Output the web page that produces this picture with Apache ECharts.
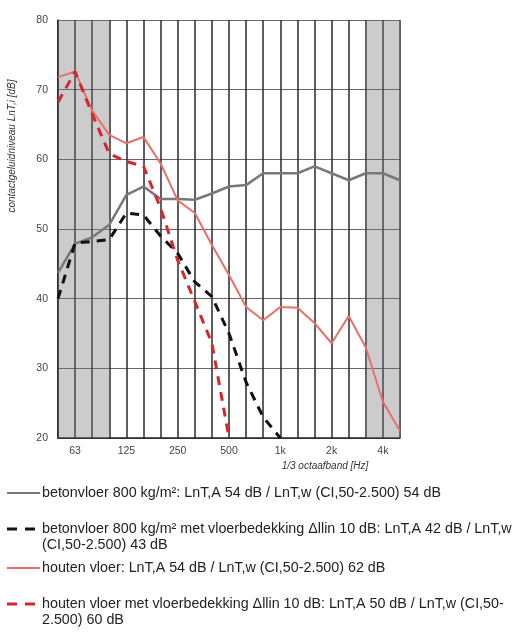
<!DOCTYPE html>
<html>
<head>
<meta charset="utf-8">
<script src="https://cdn.jsdelivr.net/npm/echarts@6/dist/echarts.min.js"></script>
<style>
  html, body { margin: 0; padding: 0; background: #fff; }
  #chart { width: 513px; height: 632px; }
</style>
</head>
<body>
<div id="chart"></div>
<script>
// 1/3 octave bands (Hz)
const bands = ['50', '63', '80', '100', '125', '160', '200', '250', '315', '400', '500',
  '630', '800', '1k', '1.25k', '1.6k', '2k', '2.5k', '3.15k', '4k', '5k'];
const shownTicks = ['63', '125', '250', '500', '1k', '2k', '4k'];

// contact noise level per band [dB]
const betonvloer = [43.7, 47.9, 48.8, 50.6, 54.9, 56.1, 54.3, 54.3, 54.2, 55.1, 56.1,
  56.3, 58, 58, 58, 59, 58, 57, 58, 58, 57];
const betonMetBedekking = [40, 48, 48.2, 48.5, 52.3, 52, 49, 46.5, 42.4, 40.3, 35,
  28, 23, 20];
const houtenVloer = [71.8, 72.6, 67, 63.5, 62.3, 63.2, 59.4, 54.1, 52.3, 47.7, 43.4,
  38.8, 36.9, 38.8, 38.7, 36.5, 33.6, 37.5, 33, 25.2, 21];
const houtMetBedekking = [68.2, 72.6, 66.5, 60.8, 59.7, 59, 53, 45.5, 39.6, 33.6, 20];

// shaded ranges outside the rating range
const shaded = [['50', '100'], ['3.15k', '5k']];

const legendItems = [
  { lines: ['betonvloer 800 kg/m²: LnT,A 54 dB / LnT,w (CI,50-2.500) 54 dB'],
    color: '#777', dash: null, width: 2, end: 40 },
  { lines: ['betonvloer 800 kg/m² met vloerbedekking Δllin 10 dB: LnT,A 42 dB / LnT,w', '(CI,50-2.500) 43 dB'],
    color: '#111', dash: [10, 8], width: 3, end: 36 },
  { lines: ['houten vloer: LnT,A 54 dB / LnT,w (CI,50-2.500) 62 dB'],
    color: '#e8706a', dash: null, width: 2, end: 40 },
  { lines: ['houten vloer met vloerbedekking Δllin 10 dB: LnT,A 50 dB / LnT,w (CI,50-', '2.500) 60 dB'],
    color: '#d8262a', dash: [10, 8], width: 3, end: 36 }
];
const legendTop = [493, 529, 568, 604];

const chart = echarts.init(document.getElementById('chart'));

const legendGraphics = [];
legendItems.forEach((item, i) => {
  const y = legendTop[i];
  legendGraphics.push({
    type: 'line',
    shape: { x1: 7, y1: y, x2: item.end, y2: y },
    style: { stroke: item.color, lineWidth: item.width, lineDash: item.dash }
  });
  // first text line centred on the sample line
  legendGraphics.push({
    type: 'text',
    x: 42,
    y: y - 8,
    style: {
      text: item.lines.join('\n'),
      fill: '#222',
      font: '14.3px "Liberation Sans", Arial, sans-serif',
      lineHeight: 16,
      textVerticalAlign: 'top'
    }
  });
});

const option = {
  animation: false,
  backgroundColor: '#fff',
  grid: { left: 58, right: 113, top: 20, bottom: 194 },
  xAxis: {
    type: 'category',
    data: bands,
    boundaryGap: false,
    axisLine: { show: true, lineStyle: { color: '#222', width: 1.5 } },
    axisTick: { show: false },
    axisLabel: {
      interval: 0,
      color: '#444',
      fontSize: 10.5,
      margin: 8,
      formatter: (v) => (shownTicks.includes(v) ? v : '')
    },
    splitLine: { show: true, lineStyle: { color: '#2a2a2a', width: 1.5 } }
  },
  yAxis: {
    type: 'value',
    min: 20,
    max: 80,
    interval: 10,
    axisLine: { show: true, lineStyle: { color: '#222', width: 1.5 } },
    axisTick: { show: false },
    axisLabel: { color: '#444', fontSize: 10.5, margin: 10 },
    splitLine: { show: true, lineStyle: { color: '#666', width: 1 } }
  },
  graphic: [
    {
      type: 'text',
      x: 12,
      y: 146,
      rotation: Math.PI / 2,
      style: {
        text: 'contactgeluidniveau LnT,i [dB]',
        fill: '#333',
        font: 'italic 10px "Liberation Sans", Arial, sans-serif',
        textAlign: 'center',
        textVerticalAlign: 'middle'
      }
    },
    {
      type: 'text',
      x: 325,
      y: 466,
      style: {
        text: '1/3 octaafband [Hz]',
        fill: '#333',
        font: 'italic 10px "Liberation Sans", Arial, sans-serif',
        textAlign: 'center',
        textVerticalAlign: 'middle'
      }
    }
  ].concat(legendGraphics),
  series: [
    {
      name: 'betonvloer',
      type: 'line',
      data: betonvloer,
      symbol: 'none',
      z: 3,
      lineStyle: { color: '#787878', width: 2.5 },
      markArea: {
        silent: true,
        itemStyle: { color: 'rgba(120,120,120,0.38)' },
        data: shaded.map(([a, b]) => [{ xAxis: a }, { xAxis: b }])
      }
    },
    {
      name: 'betonvloer met vloerbedekking',
      type: 'line',
      data: betonMetBedekking,
      symbol: 'none',
      z: 4,
      lineStyle: { color: '#111', width: 3, type: [9, 7] }
    },
    {
      name: 'houten vloer',
      type: 'line',
      data: houtenVloer,
      symbol: 'none',
      z: 3,
      lineStyle: { color: '#e8706a', width: 2 }
    },
    {
      name: 'houten vloer met vloerbedekking',
      type: 'line',
      data: houtMetBedekking,
      symbol: 'none',
      z: 5,
      lineStyle: { color: '#d8262a', width: 3, type: [9, 7] }
    }
  ]
};

chart.setOption(option);
</script>
</body>
</html>
